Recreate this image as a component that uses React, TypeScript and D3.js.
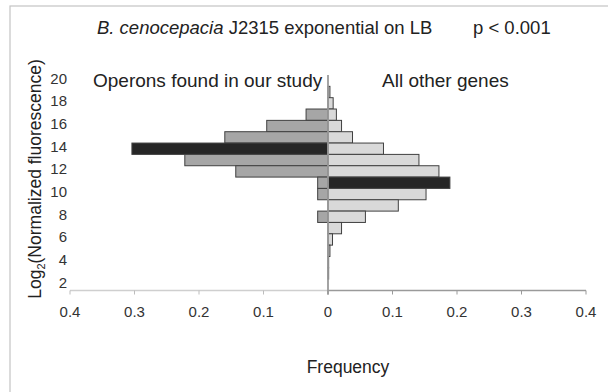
import React from "react";
import * as d3 from "d3";

const categories = [20, 19, 18, 17, 16, 15, 14, 13, 12, 11, 10, 9, 8, 7, 6, 5, 4, 3, 2];
const yTickLabels = [20, 18, 16, 14, 12, 10, 8, 6, 4, 2];
const operonFreq = [0, 0, 0, 0.034, 0.095, 0.16, 0.304, 0.222, 0.143, 0.016, 0.016, 0, 0.016, 0, 0, 0, 0, 0, 0];
const otherFreq = [0, 0.003, 0.008, 0.013, 0.021, 0.038, 0.086, 0.141, 0.172, 0.189, 0.152, 0.109, 0.058, 0.021, 0.007, 0.003, 0.001, 0.001, 0];
const highlightOperon = 14;
const highlightOther = 11;
const xTicks = [0, 0.1, 0.2, 0.3, 0.4];

const W = 608;
const H = 392;
const x0 = 328;
const yTop = 75;
const yBottom = 290.5;

export default function App() {
  const y = d3.scaleBand<number>().domain(categories).range([yTop, yBottom]).padding(0);
  const xL = d3.scaleLinear().domain([0, 0.4]).range([x0, 70]);
  const xR = d3.scaleLinear().domain([0, 0.4]).range([x0, 586]);
  const font = "Liberation Sans, Arial, sans-serif";
  const fmt = (v: number) => (v === 0 ? "0" : d3.format(".1f")(v));

  return (
    <svg width={W} height={H} style={{ position: "absolute", left: 0, top: 0 }} fontFamily={font}>
      <rect x={0} y={0} width={W} height={H} fill="#fff" />
      <rect x={10} y={6} width={W} height={H} fill="none" stroke="#c4c4c4" strokeWidth={1.2} />
      <text x={97} y={34} fontSize={18.5} fill="#222">
        <tspan fontStyle="italic">B. cenocepacia</tspan> J2315 exponential on LB
      </text>
      <text x={473} y={34} fontSize={18.5} fill="#222">p &lt; 0.001</text>

      {/* bars left */}
      {categories.map((c, i) =>
        operonFreq[i] > 0 ? (
          <rect key={"l" + c} x={xL(operonFreq[i])} y={y(c)!} width={x0 - xL(operonFreq[i])} height={y.bandwidth()}
            fill={c === highlightOperon ? "#262626" : "#a6a6a6"} stroke="#404040" strokeWidth={1} />
        ) : null
      )}
      {categories.map((c, i) =>
        otherFreq[i] > 0 ? (
          <rect key={"r" + c} x={x0} y={y(c)!} width={xR(otherFreq[i]) - x0} height={y.bandwidth()}
            fill={c === highlightOther ? "#262626" : "#d9d9d9"} stroke="#404040" strokeWidth={1} />
        ) : null
      )}

      {/* x axis */}
      <line x1={xL(0.4)} x2={x0} y1={yBottom} y2={yBottom} stroke="#cfcfcf" strokeWidth={1.5} />
      <line x1={x0} x2={xR(0.4)} y1={yBottom} y2={yBottom} stroke="#9a9a9a" strokeWidth={1.5} />
      {xTicks.map((t) => (
        <g key={"tl" + t}>
          <line x1={xL(t)} x2={xL(t)} y1={yBottom} y2={yBottom + 4} stroke="#bdbdbd" strokeWidth={1} />
          <line x1={xR(t)} x2={xR(t)} y1={yBottom} y2={yBottom + 4} stroke="#9a9a9a" strokeWidth={1} />
        </g>
      ))}
      {xTicks.slice(1).map((t) => (
        <text key={"xl" + t} x={xL(t)} y={317} fontSize={15} fill="#333" textAnchor="middle">{fmt(t)}</text>
      ))}
      {xTicks.map((t) => (
        <text key={"xr" + t} x={xR(t)} y={317} fontSize={15} fill="#333" textAnchor="middle">{fmt(t)}</text>
      ))}
      {/* central axis */}
      <line x1={x0} x2={x0} y1={yTop} y2={yBottom + 4} stroke="#9a9a9a" strokeWidth={1.8} />

      {/* y labels */}
      {yTickLabels.map((c) => (
        <text key={"yl" + c} x={67} y={y(c)! + y.bandwidth() / 2 - 1} fontSize={15} fill="#333" textAnchor="end" dominantBaseline="middle">{c}</text>
      ))}

      <text x={93} y={87} fontSize={19} fill="#222">Operons found in our study</text>
      <text x={382} y={87} fontSize={19} fill="#222">All other genes</text>

      <text transform="translate(41,179) rotate(-90)" fontSize={17.5} fill="#222" textAnchor="middle">
        Log<tspan fontSize={11} dy={4}>2</tspan><tspan dy={-4}>(Normalized fluorescence)</tspan>
      </text>
      <text x={348} y={373} fontSize={17.5} fill="#222" textAnchor="middle">Frequency</text>
    </svg>
  );
}
